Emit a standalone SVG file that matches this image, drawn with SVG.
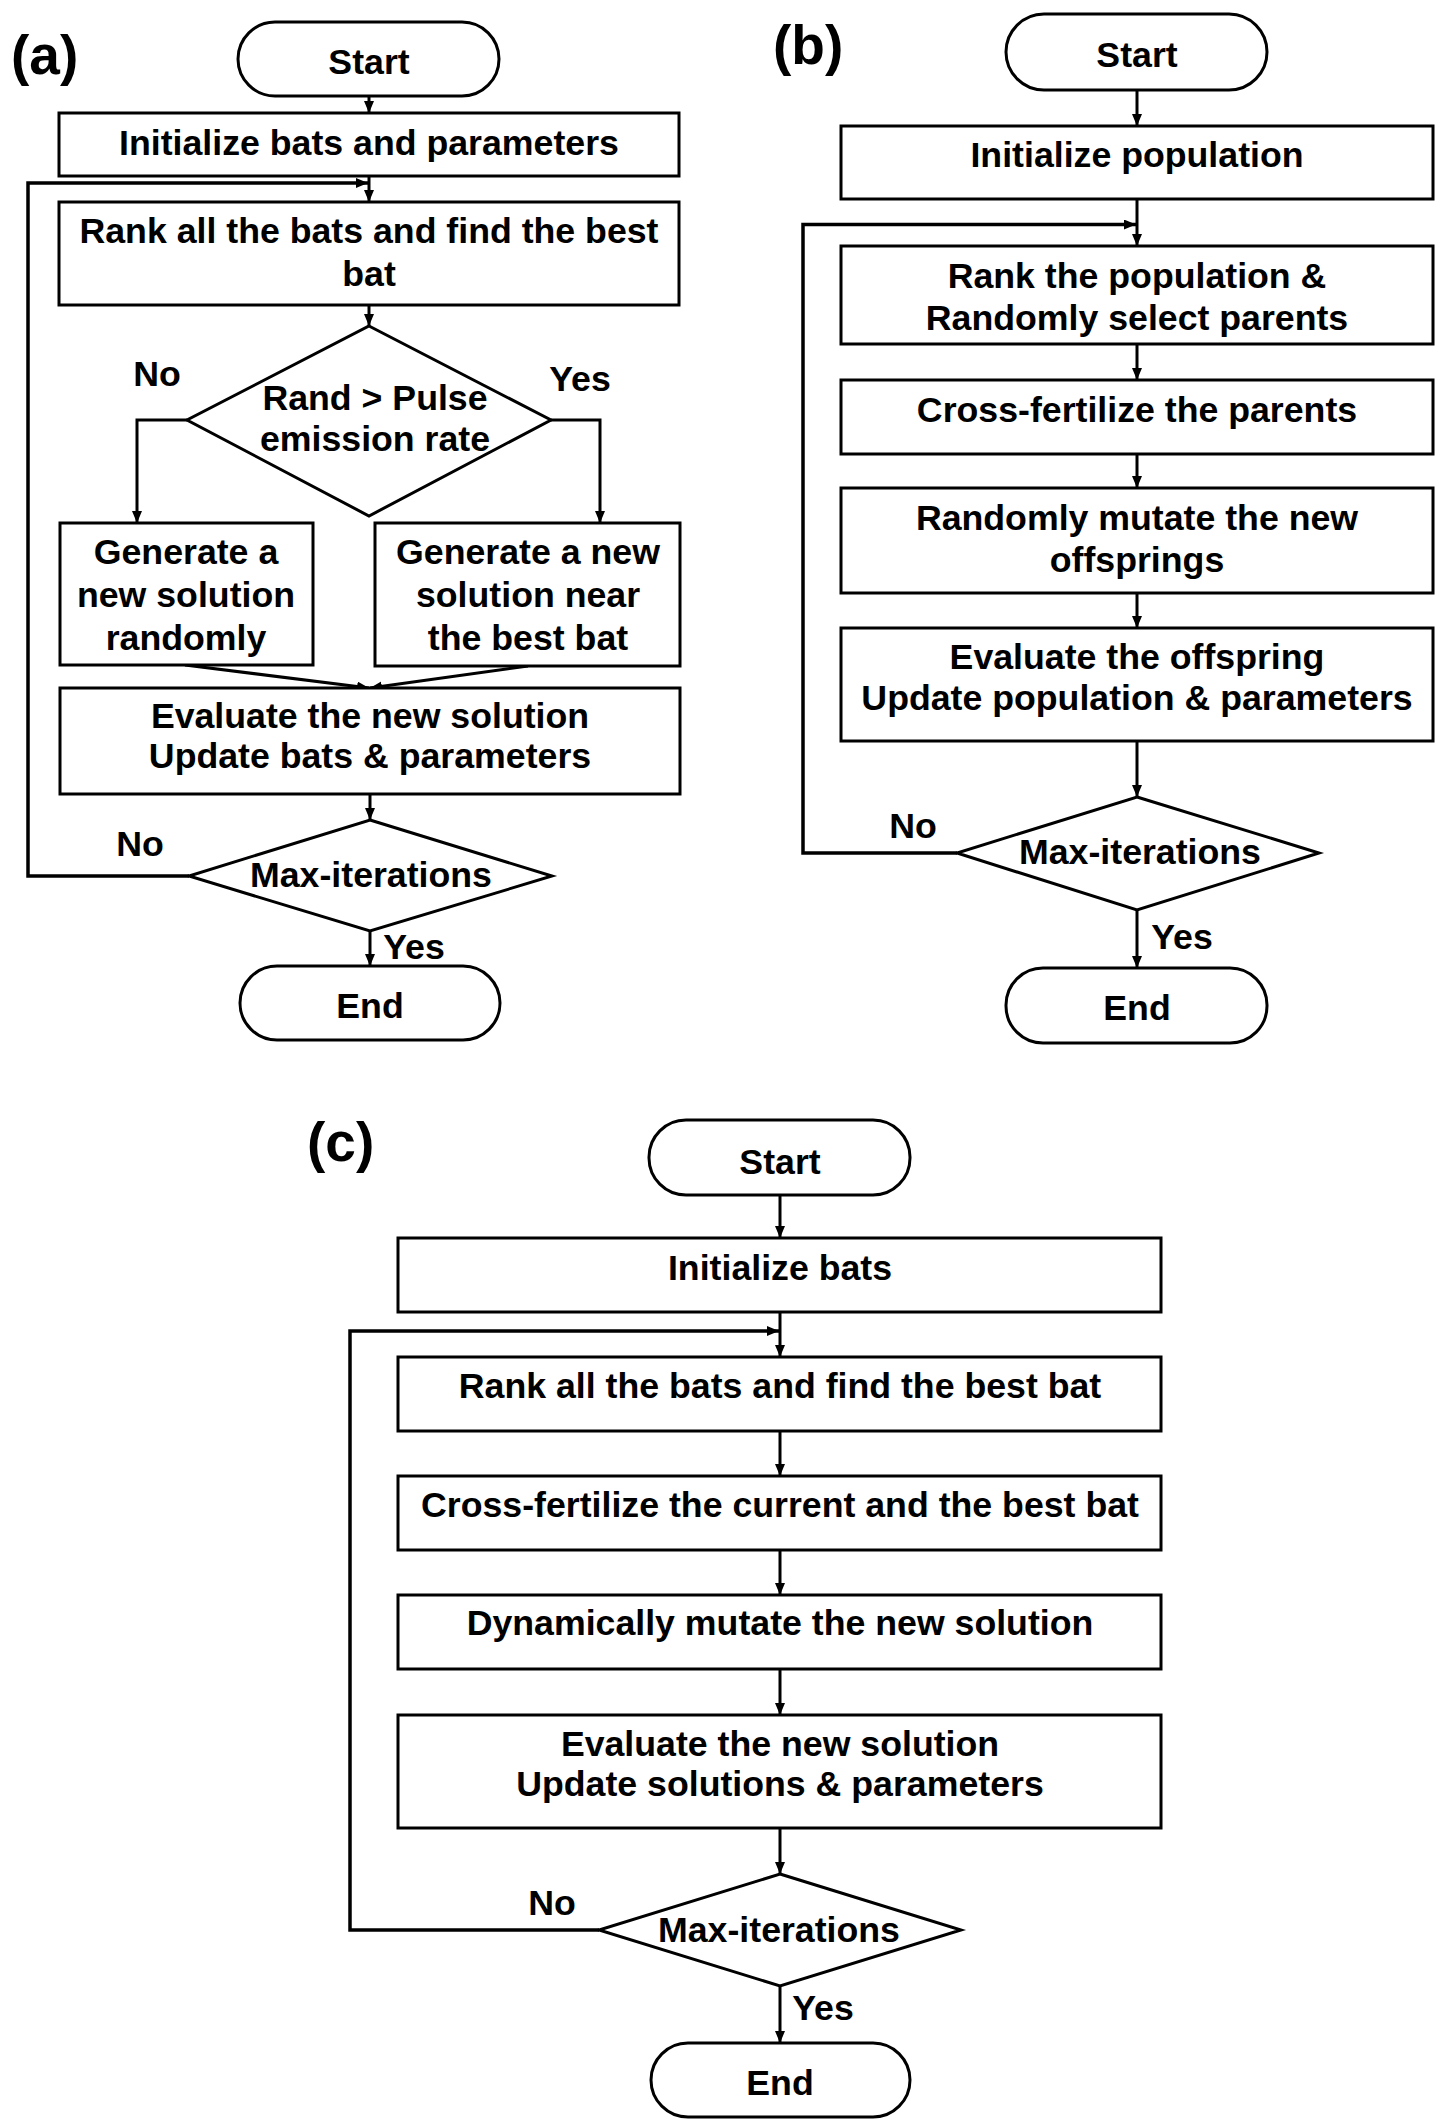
<svg xmlns="http://www.w3.org/2000/svg" width="1436" height="2126" viewBox="0 0 1436 2126">
<defs>
<marker id="ah" markerUnits="userSpaceOnUse" viewBox="0 0 12 10" refX="12" refY="5" markerWidth="12" markerHeight="10" orient="auto">
<path d="M0,0 L12,5 L0,10 z" fill="#000"/>
</marker>
</defs>
<style>
rect, polygon { fill: #fff; stroke: #000; stroke-width: 3; }
rect.bg { fill: #fff; stroke: none; }
.c { fill: none; stroke: #000; stroke-width: 3; marker-end: url(#ah); }
.lp { fill: none; stroke: #000; stroke-width: 3.5; marker-end: url(#ah); }
text { font-family: "Liberation Sans", Arial, sans-serif; font-weight: bold; font-size: 35.7px; fill: #000; text-anchor: middle; }
.lbl { font-size: 55px; text-anchor: start; }
</style>
<rect class="bg" x="0" y="0" width="1436" height="2126"/>

<g id="connectors">
<!-- panel a -->
<path class="c" d="M369,96 V113"/>
<path class="c" d="M369,176 V202"/>
<path class="c" d="M369,305 V326"/>
<path class="c" d="M187,420 H137 V523"/>
<path class="c" d="M551,420 H600 V523"/>
<path class="c" d="M185,665 L369,688"/>
<path class="c" d="M528,666 L370,688"/>
<path class="c" d="M370,794 V820"/>
<path class="lp" d="M189,876 H28 V183 H368"/>
<path class="c" d="M370,931 V966"/>
<!-- panel b -->
<path class="c" d="M1137,90 V126"/>
<path class="c" d="M1137,199 V246"/>
<path class="c" d="M1137,344 V380"/>
<path class="c" d="M1137,454 V488"/>
<path class="c" d="M1137,593 V628"/>
<path class="c" d="M1137,741 V797"/>
<path class="lp" d="M957,853 H803 V224.5 H1136"/>
<path class="c" d="M1137,910 V968"/>
<!-- panel c -->
<path class="c" d="M780,1195 V1238"/>
<path class="c" d="M780,1312 V1357"/>
<path class="c" d="M780,1431 V1476"/>
<path class="c" d="M780,1550 V1595"/>
<path class="c" d="M780,1669 V1715"/>
<path class="c" d="M780,1828 V1874"/>
<path class="lp" d="M599,1930 H350 V1331 H779"/>
<path class="c" d="M780,1986 V2043"/>
</g>

<!-- Panel (a) -->
<text class="lbl" x="11" y="74">(a)</text>
<g id="a-start"><rect x="238" y="22" width="261" height="74" rx="37"/><text x="369" y="74">Start</text></g>
<g id="a-init"><rect x="59" y="113" width="620" height="63"/><text x="369" y="155">Initialize bats and parameters</text></g>
<g id="a-rank"><rect x="59" y="202" width="620" height="103"/><text x="369" y="243">Rank all the bats and find the best</text><text x="369" y="286">bat</text></g>
<g id="a-pulse"><polygon points="369,326 551,420 369,516 187,420"/><text x="375" y="410">Rand &gt; Pulse</text><text x="375" y="451">emission rate</text></g>
<g id="a-labels1"><text x="157" y="386">No</text><text x="580" y="391">Yes</text></g>
<g id="a-genl"><rect x="60" y="523" width="253" height="142"/><text x="186" y="564">Generate a</text><text x="186" y="607">new solution</text><text x="186" y="650">randomly</text></g>
<g id="a-genr"><rect x="375" y="523" width="305" height="143"/><text x="528" y="564">Generate a new</text><text x="528" y="607">solution near</text><text x="528" y="650">the best bat</text></g>
<g id="a-eval"><rect x="60" y="688" width="620" height="106"/><text x="370" y="728">Evaluate the new solution</text><text x="370" y="768">Update bats &amp; parameters</text></g>
<g id="a-max"><polygon points="370,820 552,876 370,931 189,876"/><text x="371" y="887">Max-iterations</text></g>
<g id="a-labels2"><text x="140" y="856">No</text><text x="414" y="959">Yes</text></g>
<g id="a-end"><rect x="240" y="966" width="260" height="74" rx="37"/><text x="370" y="1018">End</text></g>

<!-- Panel (b) -->
<text class="lbl" x="773" y="64">(b)</text>
<g id="b-start"><rect x="1006" y="14" width="261" height="76" rx="38"/><text x="1137" y="67">Start</text></g>
<g id="b-init"><rect x="841" y="126" width="592" height="73"/><text x="1137" y="167">Initialize population</text></g>
<g id="b-rank"><rect x="841" y="246" width="592" height="98"/><text x="1137" y="288">Rank the population &amp;</text><text x="1137" y="330">Randomly select parents</text></g>
<g id="b-cross"><rect x="841" y="380" width="592" height="74"/><text x="1137" y="422">Cross-fertilize the parents</text></g>
<g id="b-mutate"><rect x="841" y="488" width="592" height="105"/><text x="1137" y="530">Randomly mutate the new</text><text x="1137" y="572">offsprings</text></g>
<g id="b-eval"><rect x="841" y="628" width="592" height="113"/><text x="1137" y="669">Evaluate the offspring</text><text x="1137" y="710">Update population &amp; parameters</text></g>
<g id="b-max"><polygon points="1137,797 1319,853 1137,910 957,853"/><text x="1140" y="864">Max-iterations</text></g>
<g id="b-labels"><text x="913" y="838">No</text><text x="1182" y="949">Yes</text></g>
<g id="b-end"><rect x="1006" y="968" width="261" height="75" rx="37"/><text x="1137" y="1020">End</text></g>

<!-- Panel (c) -->
<text class="lbl" x="307" y="1161">(c)</text>
<g id="c-start"><rect x="649" y="1120" width="261" height="75" rx="37"/><text x="780" y="1174">Start</text></g>
<g id="c-init"><rect x="398" y="1238" width="763" height="74"/><text x="780" y="1280">Initialize bats</text></g>
<g id="c-rank"><rect x="398" y="1357" width="763" height="74"/><text x="780" y="1398">Rank all the bats and find the best bat</text></g>
<g id="c-cross"><rect x="398" y="1476" width="763" height="74"/><text x="780" y="1517">Cross-fertilize the current and the best bat</text></g>
<g id="c-mutate"><rect x="398" y="1595" width="763" height="74"/><text x="780" y="1635">Dynamically mutate the new solution</text></g>
<g id="c-eval"><rect x="398" y="1715" width="763" height="113"/><text x="780" y="1756">Evaluate the new solution</text><text x="780" y="1796">Update solutions &amp; parameters</text></g>
<g id="c-max"><polygon points="780,1874 961,1930 780,1986 599,1930"/><text x="779" y="1942">Max-iterations</text></g>
<g id="c-labels"><text x="552" y="1915">No</text><text x="823" y="2020">Yes</text></g>
<g id="c-end"><rect x="651" y="2043" width="259" height="74" rx="37"/><text x="780" y="2095">End</text></g>
</svg>
